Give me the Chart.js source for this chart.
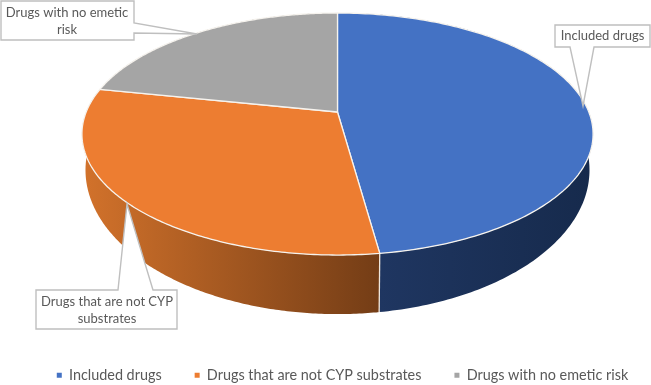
<!DOCTYPE html>
<html><head><meta charset="utf-8">
<style>html,body{margin:0;padding:0;background:#fff}#w{width:651px;height:385px}</style>
<script src="https://cdn.jsdelivr.net/npm/chart.js@4"></script></head>
<body><div id="w"><canvas id="c" width="651" height="385"></canvas></div>
<script>
const categories = ['Included drugs', 'Drugs that are not CYP substrates', 'Drugs with no emetic risk'];
const shares = [47.8, 30.4, 21.8];
const faceColors = ['#4472c4', '#ed7d31', '#a5a5a5'];

const FONT = 'Lato';
const TILT = 0.182;
const topFace = {cx: 337.5, cy: 112, R: 251.3, B: 117};
const baseFace = {cx: 337.5, cy: 143.8, R: 247.8, B: 139.3};
function project(f, a) {
  const u = Math.cos(a), v = Math.sin(a), w = 1 - TILT * v;
  return [f.cx + f.R * u / w, f.cy + f.B * v / w];
}
function trace(ctx, f, a0, a1) {
  const n = 160;
  for (let i = 0; i <= n; i++) {
    const p = project(f, a0 + (a1 - a0) * i / n);
    ctx.lineTo(p[0], p[1]);
  }
}
function wallGradient(ctx, i) {
  const g = ctx.createLinearGradient(83, 0, 593, 0);
  if (i === 0) { g.addColorStop(0.58, '#1f3661'); g.addColorStop(1, '#162a4c'); }
  else if (i === 1) { g.addColorStop(0, '#d2722b'); g.addColorStop(0.58, '#743d16'); }
  else { g.addColorStop(0, '#6b6b6b'); g.addColorStop(1, '#6b6b6b'); }
  return g;
}
const pseudo3d = {
  id: 'pseudo3d',
  afterLayout(chart) {
    const l = chart.legend, d = 335 - l.top;
    l.top += d; l.bottom += d;
    l.left += 17; l.right += 17;
  },
  beforeDatasetDraw(chart) {
    const ctx = chart.ctx, arcs = chart.getDatasetMeta(0).data;
    ctx.save();
    arcs.forEach((el, i) => {
      const {startAngle: s, endAngle: e} = el.getProps(['startAngle', 'endAngle']);
      const n = 200;
      ctx.beginPath();
      for (let k = 0; k < n; k++) {
        const a0 = s + (e - s) * k / n, a1 = s + (e - s) * (k + 1) / n;
        const p0 = project(topFace, a0), p1 = project(topFace, a1);
        const q0 = project(baseFace, a0), q1 = project(baseFace, a1);
        ctx.moveTo(p0[0], p0[1]); ctx.lineTo(p1[0], p1[1]);
        ctx.lineTo(q1[0], q1[1]); ctx.lineTo(q0[0], q0[1]); ctx.closePath();
      }
      ctx.fillStyle = wallGradient(ctx, i);
      ctx.fill();
    });
    arcs.forEach(el => {
      const {startAngle: s} = el.getProps(['startAngle']);
      const a = project(topFace, s), b = project(baseFace, s);
      if (a[1] > 200) {
        ctx.beginPath(); ctx.moveTo(a[0], a[1]); ctx.lineTo(b[0], b[1]);
        ctx.strokeStyle = '#efe6dc'; ctx.lineWidth = 1.3; ctx.stroke();
      }
    });
    arcs.forEach((el, i) => {
      const {startAngle: s, endAngle: e} = el.getProps(['startAngle', 'endAngle']);
      ctx.beginPath();
      ctx.moveTo(topFace.cx, topFace.cy);
      trace(ctx, topFace, s, e);
      ctx.closePath();
      ctx.fillStyle = faceColors[i];
      ctx.fill();
      ctx.strokeStyle = '#f6f3ee'; ctx.lineWidth = 1.3; ctx.lineJoin = 'round';
      ctx.stroke();
    });
    ctx.restore();
    return false;
  },
  afterDraw(chart) {
    const ctx = chart.ctx;
    const boxes = [
      {p: [[1,1],[134,1],[134,23],[197,34],[134,33],[134,40],[1,40]], t: ['Drugs with no emetic', 'risk'], x: 67, y: [13, 30]},
      {p: [[555,25],[650,25],[650,47],[594,47],[583,106],[570,47],[555,47]], t: ['Included drugs'], x: 602.5, y: [36]},
      {p: [[36,290],[118,290],[127,204],[153,290],[177,290],[177,329],[36,329]], t: ['Drugs that are not CYP', 'substrates'], x: 107, y: [302, 319]}
    ];
    ctx.save();
    boxes.forEach(b => {
      ctx.beginPath();
      b.p.forEach(q => ctx.lineTo(q[0], q[1]));
      ctx.closePath();
      ctx.fillStyle = '#fff'; ctx.fill();
      ctx.strokeStyle = '#bfbfbf'; ctx.lineWidth = 1.4; ctx.stroke();
      ctx.fillStyle = '#595959';
      ctx.font = '13px ' + FONT;
      ctx.textAlign = 'center'; ctx.textBaseline = 'middle';
      b.t.forEach((s, i) => ctx.fillText(s, b.x, b.y[i]));
    });
    ctx.restore();
  }
};
new Chart(document.getElementById('c'), {
  type: 'pie',
  data: {labels: categories, datasets: [{data: shares, backgroundColor: faceColors, borderWidth: 0}]},
  options: {
    responsive: false, animation: false,
    plugins: {
      tooltip: {enabled: false},
      legend: {position: 'bottom', labels: {boxWidth: 5, boxHeight: 5, padding: 33, color: '#595959', font: {family: FONT, size: 14.4}}}
    }
  },
  plugins: [pseudo3d]
});
</script></body></html>
